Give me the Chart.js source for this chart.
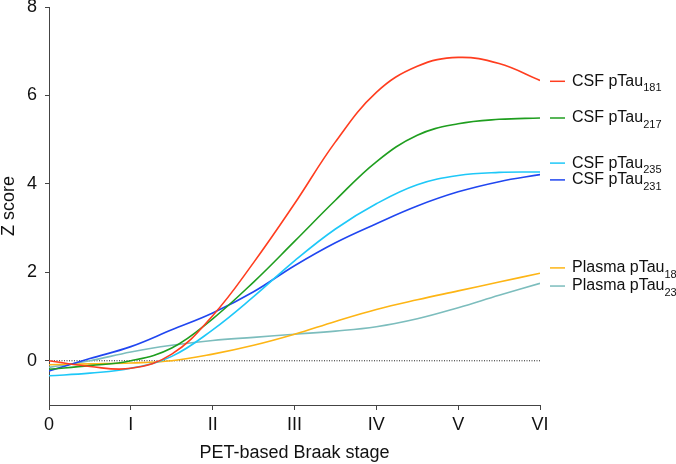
<!DOCTYPE html>
<html>
<head>
<meta charset="utf-8">
<script src="https://cdn.jsdelivr.net/npm/chart.js@4"></script>
<style>
  body { margin: 0; background: #fff; }
</style>
</head>
<body>
<canvas id="lineChart" width="676" height="464"></canvas>
<script>
// Braak stage (x) at half-stage steps
const stages = [0, 0.5, 1, 1.5, 2, 2.5, 3, 3.5, 4, 4.5, 5, 5.5, 6];
const stageLabels = ['0', 'I', 'II', 'III', 'IV', 'V', 'VI'];
const yTicks = [0, 2, 4, 6, 8];

const csf181 = [0.00, -0.13, -0.17, 0.15, 1.02, 2.22, 3.55, 4.95, 6.07, 6.66, 6.86, 6.72, 6.34];
const csf217 = [-0.19, -0.11, 0.00, 0.29, 0.95, 1.78, 2.70, 3.63, 4.50, 5.10, 5.36, 5.46, 5.49];
const csf235 = [-0.34, -0.28, -0.17, 0.10, 0.70, 1.45, 2.26, 2.98, 3.55, 3.98, 4.19, 4.26, 4.27];
const csf231 = [-0.23, 0.05, 0.32, 0.70, 1.08, 1.56, 2.15, 2.67, 3.10, 3.50, 3.82, 4.05, 4.21];
const plasma181 = [-0.09, -0.07, -0.05, 0.00, 0.15, 0.35, 0.60, 0.89, 1.16, 1.38, 1.58, 1.78, 1.98];
const plasma231 = [-0.15, 0.00, 0.20, 0.35, 0.46, 0.53, 0.60, 0.67, 0.77, 0.95, 1.20, 1.48, 1.75];

// label names, subscripts and where the end labels sit (in z score)
const names = ['CSF pTau', 'CSF pTau', 'CSF pTau', 'CSF pTau', 'Plasma pTau', 'Plasma pTau'];
const subs = ['181', '217', '235', '231', '181', '231'];
const labelPos = [6.32, 5.49, 4.47, 4.09, 2.10, 1.69];

const series = [csf181, csf217, csf235, csf231, plasma181, plasma231];
const colors = ['#ff3d1f', '#1f9e1f', '#1ec8f8', '#2046f0', '#fdb515', '#7cbdbd'];

const axisColor = '#444';
const font = { family: 'Liberation Sans, Arial, sans-serif', size: 18, lineHeight: 1 };

const datasets = series.map((vals, i) => ({
    label: names[i] + subs[i],
    data: stages.map((s, j) => ({ x: s, y: vals[j] })),
    borderColor: colors[i],
    borderWidth: 1.6,
    pointRadius: 0,
    fill: false,
    tension: 0.4,
    order: 0
}));

datasets.push({
    label: 'zero',
    data: [{ x: 0, y: 0 }, { x: 6, y: 0 }],
    borderColor: '#222',
    borderWidth: 1,
    borderDash: [1, 1.5],
    pointRadius: 0,
    fill: false,
    order: 5
});

const endLabels = {
    id: 'endLabels',
    afterDraw(chart) {
        const ctx = chart.ctx;
        const x0 = chart.chartArea.right;
        const yScale = chart.scales.y;
        ctx.save();
        series.forEach((s, i) => {
            const y = yScale.getPixelForValue(labelPos[i]);
            ctx.strokeStyle = colors[i];
            ctx.lineWidth = 1.5;
            ctx.beginPath();
            ctx.moveTo(x0 + 10, y);
            ctx.lineTo(x0 + 25, y);
            ctx.stroke();

            ctx.fillStyle = '#111';
            ctx.textBaseline = 'middle';
            ctx.textAlign = 'left';
            ctx.font = '16px Liberation Sans, Arial, sans-serif';
            ctx.fillText(names[i], x0 + 32, y);
            const w = ctx.measureText(names[i]).width;
            ctx.font = '11px Liberation Sans, Arial, sans-serif';
            ctx.fillText(subs[i], x0 + 32 + w, y + 7);
        });
        ctx.restore();
    }
};

new Chart(document.getElementById('lineChart').getContext('2d'), {
    type: 'line',
    data: { datasets: datasets },
    options: {
        responsive: false,
        animation: false,
        layout: { padding: { top: 7, right: 136, left: 0, bottom: 0 } },
        plugins: { legend: { display: false }, tooltip: { enabled: false } },
        scales: {
            x: {
                type: 'linear',
                min: 0,
                max: 6,
                ticks: {
                    stepSize: 1,
                    color: '#111',
                    font: font,
                    padding: 6,
                    maxRotation: 0,
                    callback: v => stageLabels[v]
                },
                grid: { drawOnChartArea: false, drawTicks: true, tickLength: 5, color: axisColor },
                border: { color: axisColor, width: 1 },
                title: { display: true, text: 'PET-based Braak stage', color: '#111', font: font, padding: { top: 0, bottom: 2 } },
                afterFit(scale) {
                    scale.height = 59;
                    scale.paddingLeft = 0;
                    scale.paddingRight = 0;
                }
            },
            y: {
                min: -1,
                max: 8,
                afterBuildTicks(scale) {
                    scale.ticks = yTicks.map(v => ({ value: v }));
                },
                ticks: { color: '#111', font: font, padding: 8 },
                grid: { drawOnChartArea: false, drawTicks: true, tickLength: 4, color: axisColor },
                border: { color: axisColor, width: 1 },
                title: { display: true, text: 'Z score', color: '#111', font: font, padding: { top: 0, bottom: 0 } },
                afterFit(scale) {
                    scale.width = 49;
                    scale.paddingTop = 0;
                    scale.paddingBottom = 0;
                }
            }
        }
    },
    plugins: [endLabels]
});
</script>
</body>
</html>
